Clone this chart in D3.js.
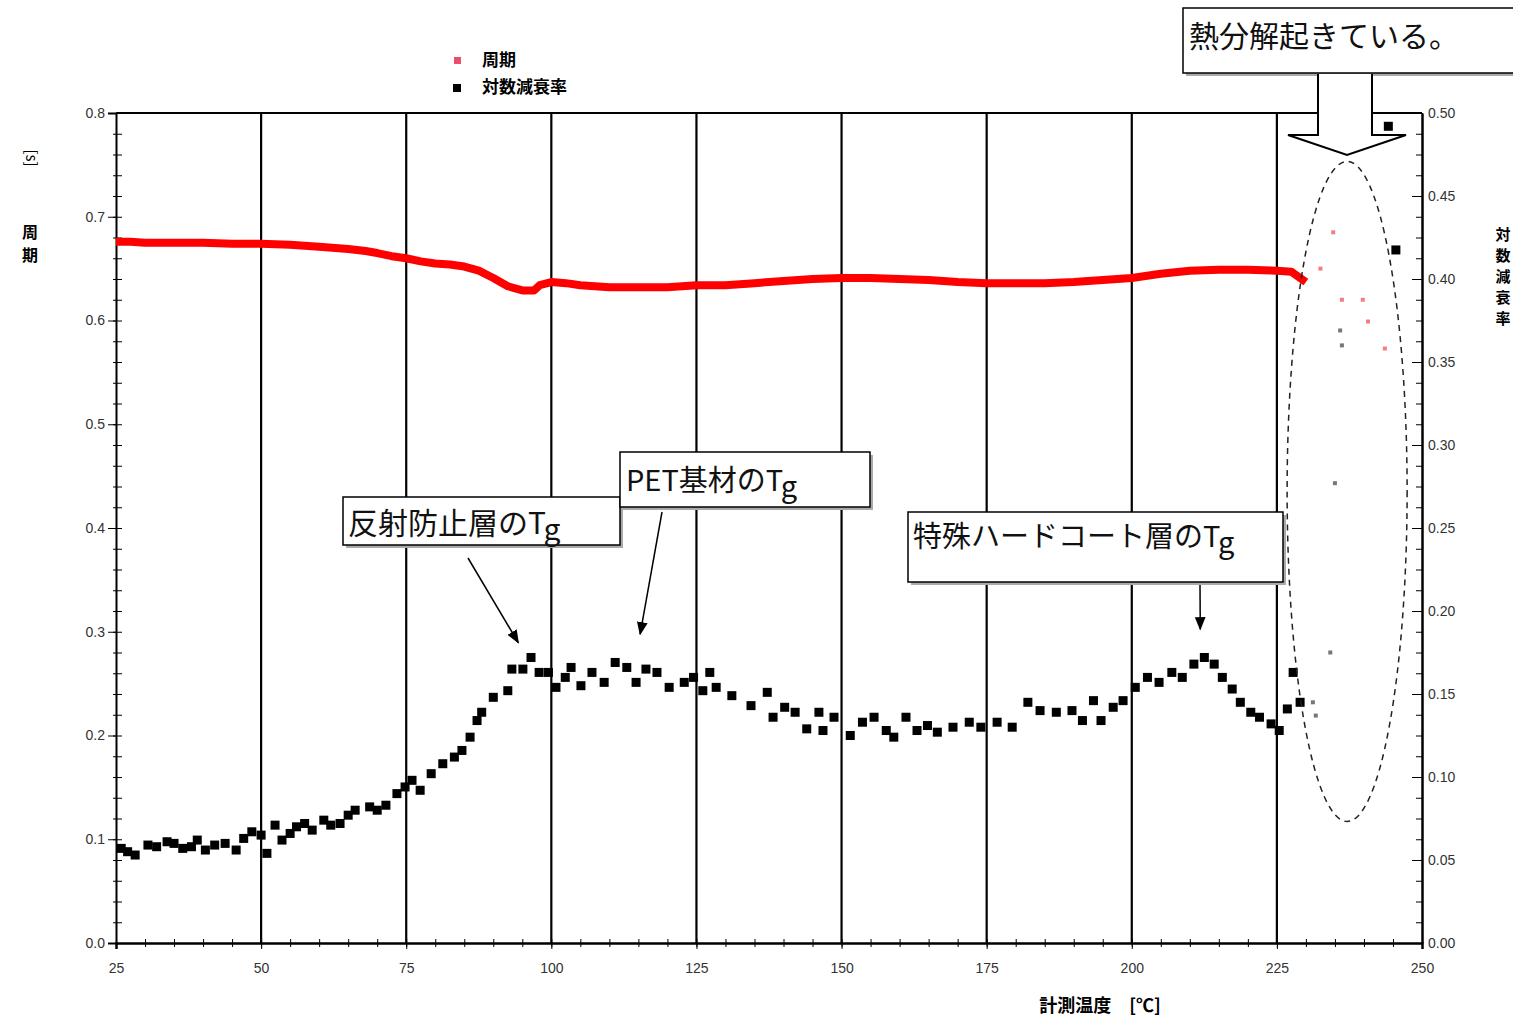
<html>
<head>
<meta charset="utf-8">
<script src="https://d3js.org/d3.v7.min.js"></script>
<style>
body { margin: 0; background: #fff; }
text { font-family: "Noto Sans CJK JP", "Noto Sans", sans-serif; }
.tick text { font-family: "Liberation Sans", sans-serif; font-size: 14px; fill: #333; }
.axis path, .axis line { stroke: #000; }
.minor text { display: none; }
</style>
</head>
<body>
<div id="vis_container"></div>
<script>
// temperature [°C] / period [s]  (red, left axis)
var periodTemp = [25, 27.5, 30, 35, 40, 45, 50, 55, 60, 65, 68, 70, 72.5, 75, 77.5, 80, 82.5, 85, 87.5, 90,
    92.5, 95, 97, 98, 100, 102.5, 105, 110, 115, 120, 125, 130, 135, 140, 145, 150, 155, 160, 165, 170,
    175, 180, 185, 190, 195, 200, 205, 210, 215, 220, 225, 227.5, 229, 230];
var periodVal = [0.676, 0.676, 0.675, 0.675, 0.675, 0.674, 0.674, 0.673, 0.671, 0.669, 0.667, 0.665, 0.662, 0.660, 0.657, 0.655, 0.654, 0.652, 0.648, 0.641,
    0.633, 0.629, 0.629, 0.634, 0.637, 0.636, 0.634, 0.632, 0.632, 0.632, 0.634, 0.634, 0.636, 0.638, 0.640, 0.641, 0.641, 0.640, 0.639, 0.637,
    0.636, 0.636, 0.636, 0.637, 0.639, 0.641, 0.645, 0.648, 0.649, 0.649, 0.648, 0.647, 0.641, 0.637];
// scattered period points after decomposition
var periodScatterTemp = [234.7, 236.2, 239.8, 240.7, 243.6, 232.5];
var periodScatterVal = [0.685, 0.620, 0.620, 0.599, 0.573, 0.650];

// temperature / logarithmic decrement (black, right axis)
var decTemp = [25.9, 27.0, 28.3, 30.5, 32.0, 33.8, 35.0, 36.5, 38.0, 39.0, 40.4, 42.0, 43.8, 45.7, 47.0, 48.4, 50.0, 51.0, 52.4, 53.6,
    55.0, 56.1, 57.5, 58.8, 60.8, 62.0, 63.6, 65.0, 66.2, 68.7, 70.0, 71.5, 73.4, 74.8, 76.0, 77.4, 79.3, 81.3, 83.3, 84.6,
    86.0, 87.2, 88.0, 90.0, 92.5, 93.2, 95.1, 96.5, 97.9, 99.5, 100.8, 102.4, 103.4, 105.1, 107.0, 109.1, 111.0, 113.0, 114.6, 116.3,
    118.2, 120.3, 122.9, 124.5, 126.1, 127.3, 128.4, 131.1, 134.4, 137.2, 138.2, 140.2, 142.0, 144.0, 146.1, 146.8, 148.7, 151.5, 153.6, 155.6,
    157.7, 159.0, 161.1, 163.0, 164.8, 166.5, 169.2, 172.0, 174.0, 176.8, 179.4, 182.1, 184.2, 187.0, 189.7, 191.5, 193.4, 194.7, 196.8, 198.5,
    200.6, 202.7, 204.7, 206.9, 208.7, 210.7, 212.5, 214.2, 215.6, 217.3, 218.7, 220.5, 222.0, 224.0, 225.4, 226.8, 227.8, 229.0];
var decVal = [0.057, 0.055, 0.053, 0.059, 0.058, 0.061, 0.060, 0.057, 0.058, 0.062, 0.056, 0.059, 0.060, 0.056, 0.063, 0.067, 0.065, 0.054, 0.071, 0.062,
    0.066, 0.070, 0.072, 0.068, 0.074, 0.071, 0.072, 0.077, 0.080, 0.082, 0.080, 0.083, 0.090, 0.094, 0.098, 0.092, 0.102, 0.108, 0.112, 0.116,
    0.124, 0.134, 0.139, 0.148, 0.152, 0.165, 0.165, 0.172, 0.163, 0.163, 0.154, 0.160, 0.166, 0.155, 0.163, 0.157, 0.169, 0.166, 0.157, 0.165,
    0.163, 0.154, 0.157, 0.160, 0.152, 0.163, 0.154, 0.149, 0.143, 0.151, 0.136, 0.142, 0.139, 0.129, 0.139, 0.128, 0.136, 0.125, 0.133, 0.136,
    0.128, 0.124, 0.136, 0.128, 0.131, 0.127, 0.130, 0.133, 0.130, 0.133, 0.130, 0.145, 0.140, 0.139, 0.140, 0.134, 0.146, 0.134, 0.142, 0.146,
    0.154, 0.160, 0.157, 0.163, 0.160, 0.168, 0.172, 0.168, 0.160, 0.153, 0.145, 0.139, 0.136, 0.132, 0.128, 0.141, 0.163, 0.145];
var decScatterTemp = [231.2, 231.7, 234.2, 235.0, 235.9, 236.2];
var decScatterVal = [0.145, 0.137, 0.175, 0.277, 0.369, 0.360];
var decBigTemp = [244.2, 245.5];
var decBigVal = [0.492, 0.4175];

var xTicks = [25, 50, 75, 100, 125, 150, 175, 200, 225, 250];
var leftTicks = [0, 0.1, 0.2, 0.3, 0.4, 0.5, 0.6, 0.7, 0.8];
var rightTicks = [0, 0.05, 0.1, 0.15, 0.2, 0.25, 0.3, 0.35, 0.4, 0.45, 0.5];

var width = 1513, height = 1019;
var svg = d3.select("#vis_container").append("svg")
    .attr("width", width).attr("height", height);

var x = d3.scaleLinear().domain([25, 250]).range([116, 1422]);
var yL = d3.scaleLinear().domain([0, 0.8]).range([943, 113]);
var yR = d3.scaleLinear().domain([0, 0.5]).range([943, 113]);

// vertical grid lines
svg.append("g").selectAll("line")
    .data(xTicks.slice(1, -1)).enter().append("line")
    .attr("x1", function(d) { return x(d); }).attr("x2", function(d) { return x(d); })
    .attr("y1", yL(0.8)).attr("y2", yL(0))
    .attr("stroke", "#000").attr("stroke-width", 2.2);

// frame top
svg.append("line").attr("x1", x(25)).attr("x2", x(250)).attr("y1", yL(0.8)).attr("y2", yL(0.8))
    .attr("stroke", "#000").attr("stroke-width", 2);

// left axis
svg.append("g").attr("class", "axis minor").attr("transform", "translate(" + x(25) + ",0)")
    .call(d3.axisRight(yL).tickValues(d3.range(0, 0.801, 0.02)).tickSize(6).tickFormat(""));
svg.append("g").attr("class", "axis minor").attr("transform", "translate(" + x(25) + ",0)")
    .call(d3.axisLeft(yL).tickValues(d3.range(0, 0.801, 0.02)).tickSize(3).tickFormat(""));
svg.append("g").attr("class", "axis").attr("transform", "translate(" + x(25) + ",0)")
    .call(d3.axisLeft(yL).tickValues(leftTicks).tickSize(8).tickPadding(3).tickFormat(d3.format(".1f")))
    .select(".domain").attr("stroke-width", 2);

// right axis
svg.append("g").attr("class", "axis minor").attr("transform", "translate(" + x(250) + ",0)")
    .call(d3.axisLeft(yR).tickValues(d3.range(0, 0.501, 0.0125)).tickSize(6).tickFormat(""));
svg.append("g").attr("class", "axis").attr("transform", "translate(" + x(250) + ",0)")
    .call(d3.axisLeft(yR).tickValues(rightTicks).tickSize(10).tickFormat(""));
svg.append("g").attr("class", "axis").attr("transform", "translate(" + x(250) + ",0)")
    .call(d3.axisRight(yR).tickValues(rightTicks).tickSize(0).tickPadding(6).tickFormat(d3.format(".2f")))
    .select(".domain").attr("stroke-width", 2.5);

// bottom axis
svg.append("g").attr("class", "axis minor").attr("transform", "translate(0," + yL(0) + ")")
    .call(d3.axisBottom(x).tickValues(d3.range(25, 251, 5)).tickSize(4).tickFormat(""));
svg.append("g").attr("class", "axis minor").attr("transform", "translate(0," + yL(0) + ")")
    .call(d3.axisTop(x).tickValues(d3.range(25, 251, 5)).tickSize(4).tickFormat(""));
svg.append("g").attr("class", "axis").attr("transform", "translate(0," + yL(0) + ")")
    .call(d3.axisBottom(x).tickValues(xTicks).tickSize(6).tickPadding(14).tickFormat(d3.format("d")))
    .select(".domain").attr("stroke", "#555").attr("stroke-width", 2.5);

// period (red)
var line = d3.line().x(function(d) { return x(d[0]); }).y(function(d) { return yL(d[1]); });
svg.append("path").datum(d3.zip(periodTemp, periodVal))
    .attr("d", line).attr("fill", "none").attr("stroke", "#f00").attr("stroke-width", 8)
    .attr("stroke-linejoin", "round");
svg.append("g").selectAll("rect").data(d3.zip(periodScatterTemp, periodScatterVal)).enter().append("rect")
    .attr("x", function(d) { return x(d[0]) - 2; }).attr("y", function(d) { return yL(d[1]) - 2; })
    .attr("width", 4).attr("height", 4).attr("fill", "#f35a6e").attr("opacity", 0.8);

// logarithmic decrement (black)
svg.append("g").selectAll("rect").data(d3.zip(decTemp, decVal)).enter().append("rect")
    .attr("x", function(d) { return x(d[0]) - 4.5; }).attr("y", function(d) { return yR(d[1]) - 4.5; })
    .attr("width", 9).attr("height", 9).attr("fill", "#000");
svg.append("g").selectAll("rect").data(d3.zip(decScatterTemp, decScatterVal)).enter().append("rect")
    .attr("x", function(d) { return x(d[0]) - 2; }).attr("y", function(d) { return yR(d[1]) - 2; })
    .attr("width", 4).attr("height", 4).attr("fill", "#777");
svg.append("g").selectAll("rect").data(d3.zip(decBigTemp, decBigVal)).enter().append("rect")
    .attr("x", function(d) { return x(d[0]) - 4.5; }).attr("y", function(d) { return yR(d[1]) - 4.5; })
    .attr("width", 9).attr("height", 9).attr("fill", "#000");

// legend
svg.append("rect").attr("x", 454).attr("y", 57).attr("width", 7).attr("height", 7).attr("fill", "#e8506a");
svg.append("text").attr("x", 482).attr("y", 66).attr("font-size", 17).attr("font-weight", "bold").text("周期");
svg.append("rect").attr("x", 453).attr("y", 84).attr("width", 8).attr("height", 8).attr("fill", "#000");
svg.append("text").attr("x", 482).attr("y", 93).attr("font-size", 17).attr("font-weight", "bold").text("対数減衰率");

// axis titles (stacked characters in one text each)
function stacked(str, cx, top, fs, step) {
    var t = svg.append("text").attr("font-size", fs).attr("font-weight", "bold").attr("text-anchor", "middle");
    str.split("").forEach(function(c, i) {
        t.append("tspan").attr("x", cx).attr("y", top + i * step).text(c);
    });
}
svg.append("text").attr("transform", "translate(26,158) rotate(90)").attr("font-size", 15)
    .attr("text-anchor", "middle").text("[s]");
stacked("周期", 30, 238, 16, 23);
stacked("対数減衰率", 1503, 240, 15, 21);
svg.append("text").attr("x", 1100).attr("y", 1012).attr("font-size", 18).attr("font-weight", "bold")
    .attr("text-anchor", "middle").text("計測温度　[℃]");

// arrow marker
svg.append("defs").append("marker").attr("id", "ah")
    .attr("viewBox", "0 0 10 10").attr("refX", 9).attr("refY", 5)
    .attr("markerWidth", 9).attr("markerHeight", 9).attr("orient", "auto-start-reverse")
    .append("path").attr("d", "M0,1 L10,5 L0,9 z").attr("fill", "#000");

// annotation boxes, arrow tips in (temperature, decrement)
var notes = [
    { x: 343, y: 497, w: 277, h: 48, text: "反射防止層のT", tx: 348, ty: 534, fs: 30,
      ax1: 468, ay1: 558, t: 94.3, v: 0.181 },
    { x: 620, y: 452, w: 250, h: 55, text: "PET基材のT", tx: 626, ty: 491, fs: 29,
      ax1: 662, ay1: 512, t: 115.3, v: 0.186 },
    { x: 908, y: 512, w: 375, h: 70, text: "特殊ハードコート層のT", tx: 913, ty: 547, fs: 29,
      ax1: 1200, ay1: 585, t: 211.8, v: 0.189 }
];
notes.forEach(function(n) {
    svg.append("rect").attr("x", n.x + 3).attr("y", n.y + 3).attr("width", n.w).attr("height", n.h).attr("fill", "#aaa");
    svg.append("rect").attr("x", n.x).attr("y", n.y).attr("width", n.w).attr("height", n.h)
        .attr("fill", "#fff").attr("stroke", "#000").attr("stroke-width", 1.5);
    var t = svg.append("text").attr("x", n.tx).attr("y", n.ty).attr("font-size", n.fs).attr("fill", "#111");
    t.append("tspan").text(n.text);
    t.append("tspan").attr("dy", 6).text("g");
    svg.append("line").attr("x1", n.ax1).attr("y1", n.ay1).attr("x2", x(n.t)).attr("y2", yR(n.v))
        .attr("stroke", "#000").attr("stroke-width", 1.5).attr("marker-end", "url(#ah)");
});

// decomposition note
svg.append("rect").attr("x", 1186).attr("y", 11).attr("width", 340).attr("height", 65).attr("fill", "#aaa");
svg.append("rect").attr("x", 1183).attr("y", 8).attr("width", 340).attr("height", 65)
    .attr("fill", "#fff").attr("stroke", "#000").attr("stroke-width", 1.5);
svg.append("text").attr("x", 1189).attr("y", 47).attr("font-size", 30).attr("fill", "#111").text("熱分解起きている。");
svg.append("path")
    .attr("d", "M1318,74 L1318,135 L1288,135 L1347,155 L1406,135 L1372,135 L1372,74")
    .attr("fill", "#fff").attr("stroke", "#000").attr("stroke-width", 2);

// dashed ellipse round the decomposition region
svg.append("ellipse").attr("cx", x(237.1)).attr("cy", yR(0.272)).attr("rx", 60).attr("ry", 330)
    .attr("fill", "none").attr("stroke", "#222").attr("stroke-width", 1.5).attr("stroke-dasharray", "6,5");
</script>
</body>
</html>
